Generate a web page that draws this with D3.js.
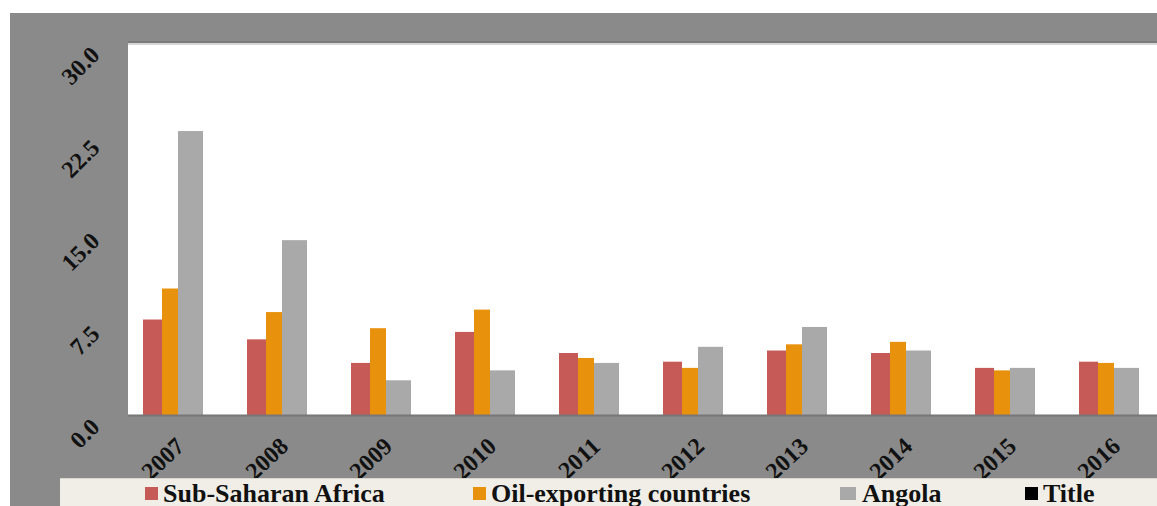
<!DOCTYPE html>
<html>
<head>
<meta charset="utf-8">
<script src="https://cdn.jsdelivr.net/npm/d3@7"></script>
<style>
  html, body { margin: 0; padding: 0; background: #ffffff; }
  svg { display: block; }
</style>
</head>
<body>
<svg id="chart" width="1157" height="506"></svg>
<script>
// Real GDP growth, percent
const years = ["2007", "2008", "2009", "2010", "2011", "2012", "2013", "2014", "2015", "2016"];
const seriesNames = ["Sub-Saharan Africa", "Oil-exporting countries", "Angola"];
const subSaharanAfrica = [7.7, 6.1, 4.2, 6.7, 5.0, 4.3, 5.2, 5.0, 3.8, 4.3];
const oilExporting     = [10.2, 8.3, 7.0, 8.5, 4.6, 3.8, 5.7, 5.9, 3.6, 4.2];
const angola           = [22.9, 14.1, 2.8, 3.6, 4.2, 5.5, 7.1, 5.2, 3.8, 3.8];
const yTicks = [0, 7.5, 15, 22.5, 30];
const legendNames = ["Sub-Saharan Africa", "Oil-exporting countries", "Angola", "Title"];

const seriesValues = [subSaharanAfrica, oilExporting, angola];
const colors = ["#c65a57", "#e8910c", "#a9a9a9", "#000000"];

const svg = d3.select("#chart");
const W = 1157, H = 506;

// frame and plot geometry
const panel = { x: 10, y: 13 };
const plot = { left: 128, top: 43, right: 1157, bottom: 415 };

const x0 = d3.scaleBand().domain(years).range([122, 1162]).padding(0);
const offset = d3.scaleOrdinal().domain(seriesNames).range([-31, -12, 4]);
const width  = d3.scaleOrdinal().domain(seriesNames).range([19, 16, 25]);
const y = d3.scaleLinear().domain([0, 30]).range([plot.bottom, plot.top]);

// gray outer panel
svg.append("rect")
  .attr("x", panel.x).attr("y", panel.y)
  .attr("width", W - panel.x).attr("height", H - panel.y)
  .attr("fill", "#8a8a8a");

// plot area with a soft upper shadow
svg.append("rect")
  .attr("x", plot.left).attr("y", plot.top - 2)
  .attr("width", plot.right - plot.left).attr("height", 3)
  .attr("fill", "#7b7b7b");
svg.append("rect")
  .attr("x", plot.left).attr("y", plot.top)
  .attr("width", plot.right - plot.left).attr("height", plot.bottom - plot.top)
  .attr("fill", "#ffffff");
svg.append("rect")
  .attr("x", plot.left).attr("y", plot.top)
  .attr("width", plot.right - plot.left).attr("height", 2)
  .attr("fill", "#d6d6d6");

// bars
const rows = [];
years.forEach((yr, i) => {
  seriesNames.forEach((s, j) => rows.push({ year: yr, series: s, idx: j, value: seriesValues[j][i] }));
});

svg.append("g").selectAll("rect")
  .data(rows)
  .join("rect")
  .attr("x", d => x0(d.year) + x0.bandwidth() / 2 + offset(d.series))
  .attr("y", d => y(d.value))
  .attr("width", d => width(d.series))
  .attr("height", d => y(0) - y(d.value))
  .attr("fill", d => colors[d.idx]);

// bottom edge of the plot
svg.append("line")
  .attr("x1", plot.left).attr("x2", plot.right)
  .attr("y1", plot.bottom + 0.5).attr("y2", plot.bottom + 0.5)
  .attr("stroke", "#777777").attr("stroke-width", 2);

// y axis labels
const yAxis = d3.axisLeft(y).tickValues(yTicks).tickFormat(d3.format(".1f")).tickSize(0);
const yg = svg.append("g").call(yAxis);
yg.select(".domain").remove();
yg.selectAll(".tick text")
  .attr("x", 0).attr("y", 0).attr("dy", "0.35em")
  .attr("text-anchor", "end")
  .attr("transform", "translate(95,7) rotate(-45)")
  .style("font-family", "'Liberation Serif', 'Times New Roman', serif")
  .style("font-weight", "bold")
  .style("font-size", "24px")
  .attr("fill", "#111111");

// x axis labels
const xAxis = d3.axisBottom(x0).tickSize(0);
const xg = svg.append("g").attr("transform", `translate(0,${plot.bottom})`).call(xAxis);
xg.select(".domain").remove();
xg.selectAll(".tick text")
  .attr("x", 0).attr("y", 0).attr("dy", "0.35em")
  .attr("text-anchor", "end")
  .attr("transform", "translate(6,27) rotate(-43)")
  .style("font-family", "'Liberation Serif', 'Times New Roman', serif")
  .style("font-weight", "bold")
  .style("font-size", "24px")
  .attr("fill", "#111111");

// legend band
const legend = svg.append("g");
legend.append("rect")
  .attr("x", 60).attr("y", 478)
  .attr("width", W - 60).attr("height", H - 478)
  .attr("fill", "#f0eee7");
legend.append("line")
  .attr("x1", 60).attr("x2", W).attr("y1", 478.5).attr("y2", 478.5)
  .attr("stroke", "#d8d6cf").attr("stroke-width", 1);

const legendX = d3.scaleOrdinal().domain(legendNames).range([145, 473, 840, 1025]);
const items = legend.selectAll("g.item")
  .data(legendNames)
  .join("g")
  .attr("class", "item")
  .attr("transform", d => `translate(${legendX(d)},0)`);
items.append("rect")
  .attr("x", 0).attr("y", 487)
  .attr("width", (d, i) => i === 2 ? 16 : 13).attr("height", 13)
  .attr("fill", (d, i) => colors[i]);
items.append("text")
  .attr("x", (d, i) => i === 2 ? 22 : 18).attr("y", 502)
  .text(d => d)
  .style("font-family", "'Liberation Serif', 'Times New Roman', serif")
  .style("font-weight", "bold")
  .style("font-size", "26px")
  .attr("fill", "#111111");
</script>
</body>
</html>
